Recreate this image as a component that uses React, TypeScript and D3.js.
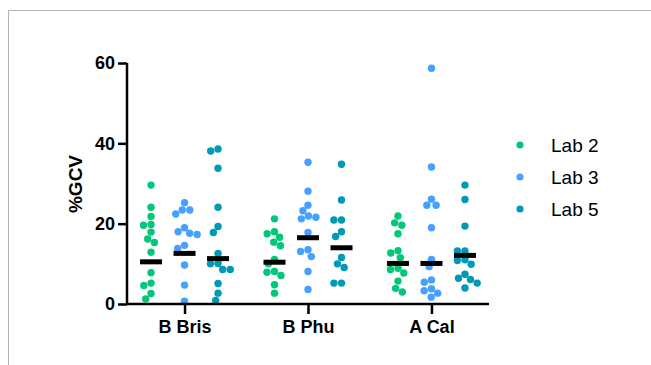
import React, { useRef, useEffect } from "react";
import * as d3 from "d3";

const strains = ["B Bris", "B Phu", "A Cal"];
const labs = ["Lab 2", "Lab 3", "Lab 5"];
const labColors = ["#00c878", "#46a0ff", "#0099b6"];

// %GCV values per strain, per lab
const bBris = [
  [29.6, 24.1, 21.8, 19.6, 19.8, 17.9, 16.2, 15.3, 12.9, 7.8, 4.6, 5.2, 2.6, 1.25],
  [25.2, 23.4, 22.4, 23.4, 19.0, 17.6, 17.3, 18.0, 14.6, 13.8, 9.7, 4.7, 0.7],
  [38.6, 38.1, 33.8, 24.1, 19.3, 17.8, 12.6, 10.1, 10.0, 8.6, 8.6, 5.1, 2.7, 0.9],
];
const bPhu = [
  [21.2, 16.6, 17.5, 18.0, 14.5, 15.4, 11.1, 10.0, 7.9, 8.1, 7.1, 4.8, 2.7],
  [35.3, 28.1, 24.6, 23.2, 21.9, 21.2, 21.6, 17.8, 13.5, 13.1, 11.8, 8.1, 3.6],
  [34.8, 25.9, 20.9, 20.9, 18.0, 16.8, 11.6, 10.0, 9.1, 5.2, 5.2],
];
const aCal = [
  [21.9, 20.2, 19.6, 17.5, 12.7, 13.3, 11.5, 8.6, 7.7, 8.9, 5.7, 3.0, 3.9],
  [58.7, 34.1, 26.1, 24.6, 24.6, 19.0, 11.1, 9.3, 6.0, 5.4, 3.8, 3.3, 2.7, 1.7],
  [29.6, 26.0, 19.4, 13.2, 13.2, 10.8, 11.0, 9.9, 7.4, 6.4, 6.1, 5.2, 4.0],
];
// geometric mean lines
const geoMeans = [
  [10.5, 12.6, 11.3],
  [10.4, 16.5, 14.0],
  [10.1, 10.1, 12.1],
];
const yTicks = [0, 20, 40, 60];

const W = 651;
const H = 365;
const plot = { left: 127, right: 489, top: 63, bottom: 304 };
const R = 3.7;
const font = "Liberation Sans, Arial, Helvetica, sans-serif";

// simple beeswarm: nearest free x offset for each point
function swarm(ys: number[], minDist: number): number[] {
  const order = ys.map((y, i) => i).sort((a, b) => ys[a] - ys[b]);
  const placed: { x: number; y: number }[] = [];
  const out: number[] = new Array(ys.length).fill(0);
  for (const i of order) {
    const y = ys[i];
    const cands = [0];
    placed.forEach(p => {
      const dy = Math.abs(p.y - y);
      if (dy < minDist) {
        const dx = Math.sqrt(minDist * minDist - dy * dy);
        cands.push(p.x - dx, p.x + dx);
      }
    });
    cands.sort((a, b) => Math.abs(a) - Math.abs(b) || a - b);
    let best = 0;
    for (const c of cands) {
      const ok = placed.every(p => Math.hypot(p.x - c, p.y - y) >= minDist - 0.01);
      if (ok) { best = c; break; }
    }
    placed.push({ x: best, y });
    out[i] = best;
  }
  return out;
}

const App = () => {
  const svgRef = useRef<SVGSVGElement>(null);

  useEffect(() => {
    const svg = d3.select(svgRef.current);
    svg.selectAll("*").remove();
    const data = [bBris, bPhu, aCal];

    const x = d3.scalePoint().domain(strains).range([plot.left, plot.right]).padding(0.466);
    const sub = d3.scalePoint().domain(labs).range([-33.5, 33.5]);
    const y = d3.scaleLinear().domain([0, 60]).range([plot.bottom, plot.top]);

    // frame lines
    svg.append("line").attr("x1", 8.5).attr("x2", W).attr("y1", 10.5).attr("y2", 10.5)
      .attr("stroke", "#b4b4b4").attr("stroke-width", 1);
    svg.append("line").attr("x1", 8.5).attr("x2", 8.5).attr("y1", 10.5).attr("y2", H)
      .attr("stroke", "#b4b4b4").attr("stroke-width", 1);

    // dots
    const g = svg.append("g");
    data.forEach((groups, si) => {
      groups.forEach((vals, li) => {
        const cx = (x(strains[si]) as number) + (sub(labs[li]) as number);
        const ys = vals.map(v => y(v));
        const offs = swarm(ys, 7.6);
        g.append("g").selectAll("circle")
          .data(vals)
          .enter()
          .append("circle")
          .attr("cx", (d, i) => cx + offs[i])
          .attr("cy", d => y(d))
          .attr("r", R)
          .attr("fill", labColors[li]);
        g.append("rect")
          .attr("x", cx - 11)
          .attr("y", y(geoMeans[si][li]) - 2.5)
          .attr("width", 22)
          .attr("height", 5)
          .attr("fill", "black");
      });
    });

    // axes
    const yAxis = d3.axisLeft(y).tickValues(yTicks).tickSize(9).tickPadding(3).tickFormat(d3.format("d"));
    const ya = svg.append("g").attr("transform", `translate(${plot.left},0)`).call(yAxis);
    const xAxis = d3.axisBottom(x).tickSize(10).tickPadding(6).tickSizeOuter(0);
    const xa = svg.append("g").attr("transform", `translate(0,${plot.bottom})`).call(xAxis);
    [ya, xa].forEach(a => {
      a.select(".domain").attr("stroke", "black").attr("stroke-width", 2.5);
      a.selectAll(".tick line").attr("stroke", "black").attr("stroke-width", 2.5);
      a.selectAll(".tick text")
        .attr("fill", "black")
        .attr("font-family", font)
        .attr("font-weight", "bold")
        .attr("font-size", 18);
    });
    ya.select(".domain").attr("d", `M0,${plot.top}V${plot.bottom}`);
    xa.select(".domain").attr("d", `M${plot.left},0H${plot.right}`);

    svg.append("text")
      .attr("transform", `translate(82,184) rotate(-90)`)
      .attr("text-anchor", "middle")
      .attr("font-family", font)
      .attr("font-weight", "bold")
      .attr("font-size", 19)
      .text("%GCV");

    // legend
    const leg = svg.append("g");
    labs.forEach((l, i) => {
      const ly = 145 + i * 32;
      leg.append("circle").attr("cx", 520).attr("cy", ly).attr("r", 3.6).attr("fill", labColors[i]);
      leg.append("text")
        .attr("x", 551)
        .attr("y", ly)
        .attr("dy", "0.35em")
        .attr("font-family", font)
        .attr("font-size", 19)
        .attr("fill", "black")
        .text(l);
    });
  }, []);

  return (
    <svg ref={svgRef} width={W} height={H}
      style={{ position: "absolute", left: 0, top: 0, background: "white" }}></svg>
  );
};

export default App;
